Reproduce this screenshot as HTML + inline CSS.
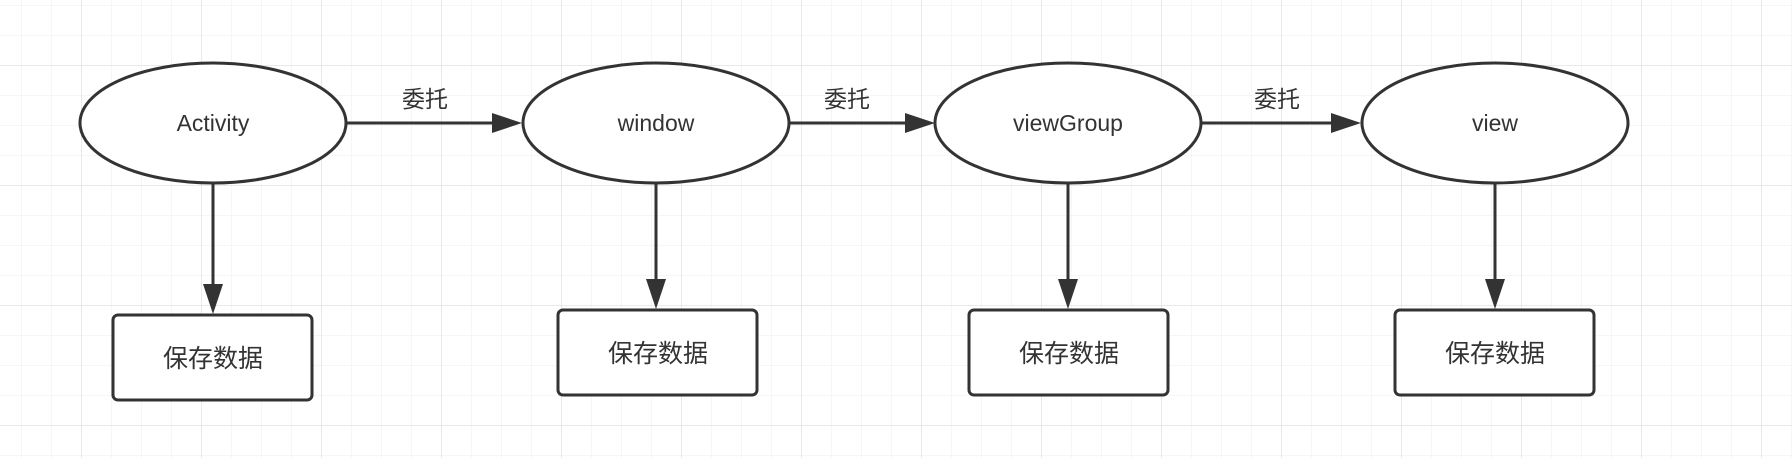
<!DOCTYPE html>
<html><head><meta charset="utf-8"><style>
html,body{margin:0;padding:0;background:#fff}
svg{display:block}
text{font-family:"Liberation Sans","Noto Sans CJK SC",sans-serif;fill:#333}
</style></head><body>
<svg width="1792" height="458" viewBox="0 0 1792 458" xmlns="http://www.w3.org/2000/svg">
<defs>
<pattern id="g" x="21" y="5" width="30" height="30" patternUnits="userSpaceOnUse">
<path d="M0 0H30M0 0V30" stroke="#ececec" stroke-width="1" fill="none"/>
</pattern>
<pattern id="G" x="81" y="65" width="120" height="120" patternUnits="userSpaceOnUse">
<path d="M0 0H120M0 0V120" stroke="#e2e2e2" stroke-width="1.5" fill="none"/>
</pattern>
<marker id="a" markerWidth="10" markerHeight="10" refX="9" refY="5" orient="auto" markerUnits="userSpaceOnUse" viewBox="0 0 10 10">
</marker>
</defs>
<rect width="1792" height="458" fill="url(#g)"/>
<rect width="1792" height="458" fill="url(#G)"/>
<g stroke="#333" stroke-width="3" fill="#fff">
<ellipse cx="213" cy="123" rx="133" ry="60"/>
<ellipse cx="656" cy="123" rx="133" ry="60"/>
<ellipse cx="1068" cy="123" rx="133" ry="60"/>
<ellipse cx="1495" cy="123" rx="133" ry="60"/>
<rect x="113" y="315" width="199" height="85" rx="5"/>
<rect x="558" y="310" width="199" height="85" rx="5"/>
<rect x="969" y="310" width="199" height="85" rx="5"/>
<rect x="1395" y="310" width="199" height="85" rx="5"/>
<path d="M346 123H492M789 123H906M1201 123H1331M213 183V290M656 183V285M1068 183V285M1495 183V285" fill="none"/>
</g>
<g fill="#333">
<path d="M492 113L522 123L492 133Z"/>
<path d="M905 113L935 123L905 133Z"/>
<path d="M1331 113L1361 123L1331 133Z"/>
<path d="M203 284L213 314L223 284Z"/>
<path d="M646 279L656 309L666 279Z"/>
<path d="M1058 279L1068 309L1078 279Z"/>
<path d="M1485 279L1495 309L1505 279Z"/>
</g>
<g font-size="23" text-anchor="middle">
<text x="213" y="131">Activity</text>
<text x="656" y="131">window</text>
<text x="1068" y="131">viewGroup</text>
<text x="1495" y="131">view</text>
<text x="425" y="107">委托</text>
<text x="847" y="107">委托</text>
<text x="1277" y="107">委托</text>
</g>
<g font-size="25" text-anchor="middle">
<text x="213" y="367">保存数据</text>
<text x="658" y="362">保存数据</text>
<text x="1069" y="362">保存数据</text>
<text x="1495" y="362">保存数据</text>
</g>
</svg>
</body></html>
